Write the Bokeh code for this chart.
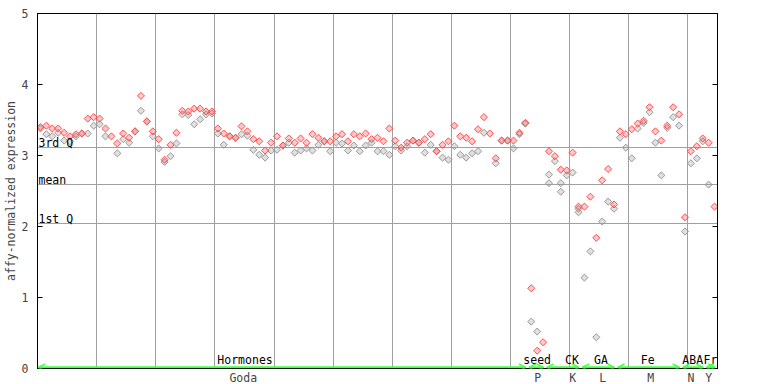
import math
from bokeh.plotting import figure
from bokeh.models import (Range1d, LinearAxis, FixedTicker, Arrow, OpenHead,
                          ColumnDataSource)
from bokeh.core.properties import value
from bokeh.embed import file_html
from bokeh.resources import INLINE

# ---------------- data ----------------
samples = list(range(115))

rep1 = [3.40, 3.42, 3.38, 3.38, 3.32, 3.27, 3.30, 3.31, 3.52, 3.54,
        3.52, 3.38, 3.27, 3.17, 3.31, 3.25, 3.34, 3.84, 3.48, 3.34,
        3.23, 2.94, 3.15, 3.32, 3.63, 3.62, 3.66, 3.66, 3.62, 3.62,
        3.38, 3.31, 3.27, 3.25, 3.41, 3.34, 3.23, 3.20, 3.07, 3.18,
        3.27, 3.14, 3.24, 3.18, 3.24, 3.18, 3.30, 3.25, 3.20, 3.20,
        3.27, 3.30, 3.20, 3.30, 3.27, 3.31, 3.23, 3.25, 3.20, 3.38,
        3.21, 3.11, 3.18, 3.21, 3.18, 3.23, 3.30, 3.06, 3.15, 3.20,
        3.42, 3.27, 3.25, 3.20, 3.37, 3.54, 3.31, 2.96, 3.21, 3.21,
        3.21, 3.32, 3.46, 1.13, 0.25, 0.37, 3.06, 2.99, 2.80, 2.79,
        3.04, 2.28, 2.28, 2.42, 1.84, 2.65, 2.81, 2.31, 3.34, 3.30,
        3.37, 3.45, 3.49, 3.68, 3.34, 3.21, 3.42, 3.68, 3.58, 2.13,
        3.06, 3.13, 3.24, 3.18, 2.28]

rep2 = [3.38, 3.30, 3.27, 3.32, 3.21, 3.20, 3.27, 3.31, 3.31, 3.42,
        3.44, 3.27, None, 3.03, 3.23, 3.18, 3.34, 3.63, 3.48, 3.27,
        3.10, 2.91, 2.99, 3.17, 3.58, 3.57, 3.44, 3.51, 3.58, 3.59,
        3.31, 3.15, 3.27, 3.25, 3.30, 3.28, 3.08, 3.01, 2.97, 3.07,
        3.08, 3.14, 3.18, 3.04, 3.07, 3.10, 3.07, 3.15, 3.20, 3.06,
        3.18, 3.17, 3.07, 3.14, 3.06, 3.14, 3.18, 3.06, 3.06, 3.01,
        3.13, 3.07, 3.13, 3.21, 3.18, 3.04, 3.15, 3.06, 2.97, 2.94,
        3.13, 3.01, 2.97, 3.03, 3.06, 3.32, None, 2.89, 3.21, 3.21,
        3.10, 3.30, 3.45, 0.66, 0.52, None, 2.73, 2.92, 2.61, 2.72,
        2.76, 2.25, 1.28, 1.65, 0.44, 2.07, 2.35, 2.25, 3.25, 3.11,
        2.96, 3.38, 3.46, 3.61, 3.18, 2.72, 3.39, 3.54, 3.42, 1.93,
        2.89, 2.96, 3.20, 2.59, None]

extra_idx = [86, 88, 91]
extra_val = [2.61, 2.49, 2.20]

stat_names = ["3rd Q", "mean", "1st Q"]
stat_values = [3.11, 2.59, 2.04]

group_names = ["Hormones", "seed", "CK", "GA", "Fe", "ABA", "Fr"]
group_first = [0, 83, 86, 92, 98, 109, 113]
group_last = [82, 85, 91, 97, 108, 112, 114]
group_label_pos = [34.6, 84.0, 89.9, 94.8, 102.7, 110.3, 113.3]

exp_names = ["Goda", "P", "K", "L", "M", "N", "Y"]
exp_label_pos = [34.3, 84.1, 90.0, 95.1, 103.2, 110.0, 113.0]

y_ticks = [0, 1, 2, 3, 4, 5]

# ---------------- styling ----------------
RED = "#ff4d4d"
GREY = "#999999"
GREEN = "#44ff44"
MONO = value("DejaVu Sans Mono")
FS = "11.5px"

p = figure(frame_width=680, frame_height=355,
           min_border_left=29, min_border_top=13, min_border_bottom=15,
           min_border_right=10,
           x_range=Range1d(-0.5, 114.5), y_range=Range1d(0, 5),
           output_backend="svg", toolbar_location=None,
           background_fill_color="white", border_fill_color="white")
p.outline_line_color = "black"
p.outline_line_width = 1

# grids
p.xgrid.ticker = FixedTicker(ticks=[9.5 + 10 * k for k in range(11)])
p.xgrid.grid_line_color = "#a0a0a0"
p.xgrid.grid_line_width = 1
p.ygrid.ticker = FixedTicker(ticks=stat_values)
p.ygrid.grid_line_color = "#a0a0a0"
p.ygrid.grid_line_width = 1

# y axis (left)
p.yaxis.ticker = FixedTicker(ticks=y_ticks)
p.yaxis.major_tick_in = 5
p.yaxis.major_tick_out = 0
p.yaxis.minor_tick_line_color = None
p.yaxis.major_label_text_font = "DejaVu Sans Mono"
p.yaxis.major_label_text_font_size = FS
p.yaxis.major_label_standoff = 9
p.yaxis.axis_label = "affy-normalized expression"
p.yaxis.axis_label_text_font = "DejaVu Sans Mono"
p.yaxis.axis_label_text_font_size = FS
p.yaxis.axis_label_text_font_style = "normal"
p.yaxis.axis_label_standoff = 1
p.yaxis.axis_line_color = "black"

# right axis: ticks only
ra = LinearAxis(ticker=FixedTicker(ticks=y_ticks), major_tick_in=5, major_tick_out=0,
                minor_tick_line_color=None, major_label_text_font_size=FS,
                major_label_overrides={t: "" for t in y_ticks},
                major_label_standoff=0,
                axis_line_color="black")
p.add_layout(ra, "right")

# x axis: experiment labels
p.xaxis.ticker = FixedTicker(ticks=exp_label_pos)
p.xaxis.major_label_overrides = {pos: name for pos, name in zip(exp_label_pos, exp_names)}
p.xaxis.major_tick_in = 0
p.xaxis.major_tick_out = 0
p.xaxis.minor_tick_line_color = None
p.xaxis.major_label_text_font = "DejaVu Sans Mono"
p.xaxis.major_label_text_font_size = FS
p.xaxis.major_label_standoff = 2
p.xaxis.axis_line_color = "black"

# points
def pts(vals, idx=None):
    idx = samples if idx is None else idx
    xs = [i for i, v in zip(idx, vals) if v is not None]
    ys = [v for v in vals if v is not None]
    return ColumnDataSource(dict(x=xs, y=ys))

for src, col in [(pts(rep2), GREY), (pts(rep1), RED), (pts(extra_val, extra_idx), GREY)]:
    p.scatter("x", "y", source=src, marker="square", angle=math.pi / 4, size=5,
              fill_color=col, fill_alpha=0.3, line_color=col, line_width=1)

# stat labels
p.text(x=[-0.5] * len(stat_values), y=stat_values, text=stat_names,
       text_font=MONO, text_font_size=FS, text_baseline="bottom",
       x_offset=1, y_offset=2, text_color="black")

# group labels
p.text(x=group_label_pos, y=[0] * len(group_names), text=group_names,
       text_font=MONO, text_font_size=FS, text_baseline="bottom",
       text_align="center", y_offset=-2, text_color="black")

# group arrows (lifted about one pixel above the axis line)
arrow_y = 1.2 / 71.0
arr_src = ColumnDataSource(dict(
    x0=[f - 0.4 for f in group_first], x1=[l + 0.1 for l in group_last],
    y0=[arrow_y] * len(group_first), y1=[arrow_y] * len(group_first)))
p.add_layout(Arrow(x_start="x0", y_start="y0", x_end="x1", y_end="y1", source=arr_src,
                   line_color=GREEN, line_width=2,
                   start=OpenHead(size=7, line_color=GREEN, line_width=1.5),
                   end=OpenHead(size=7, line_color=GREEN, line_width=1.5)))

open("out.html", "w").write(file_html(p, INLINE))
